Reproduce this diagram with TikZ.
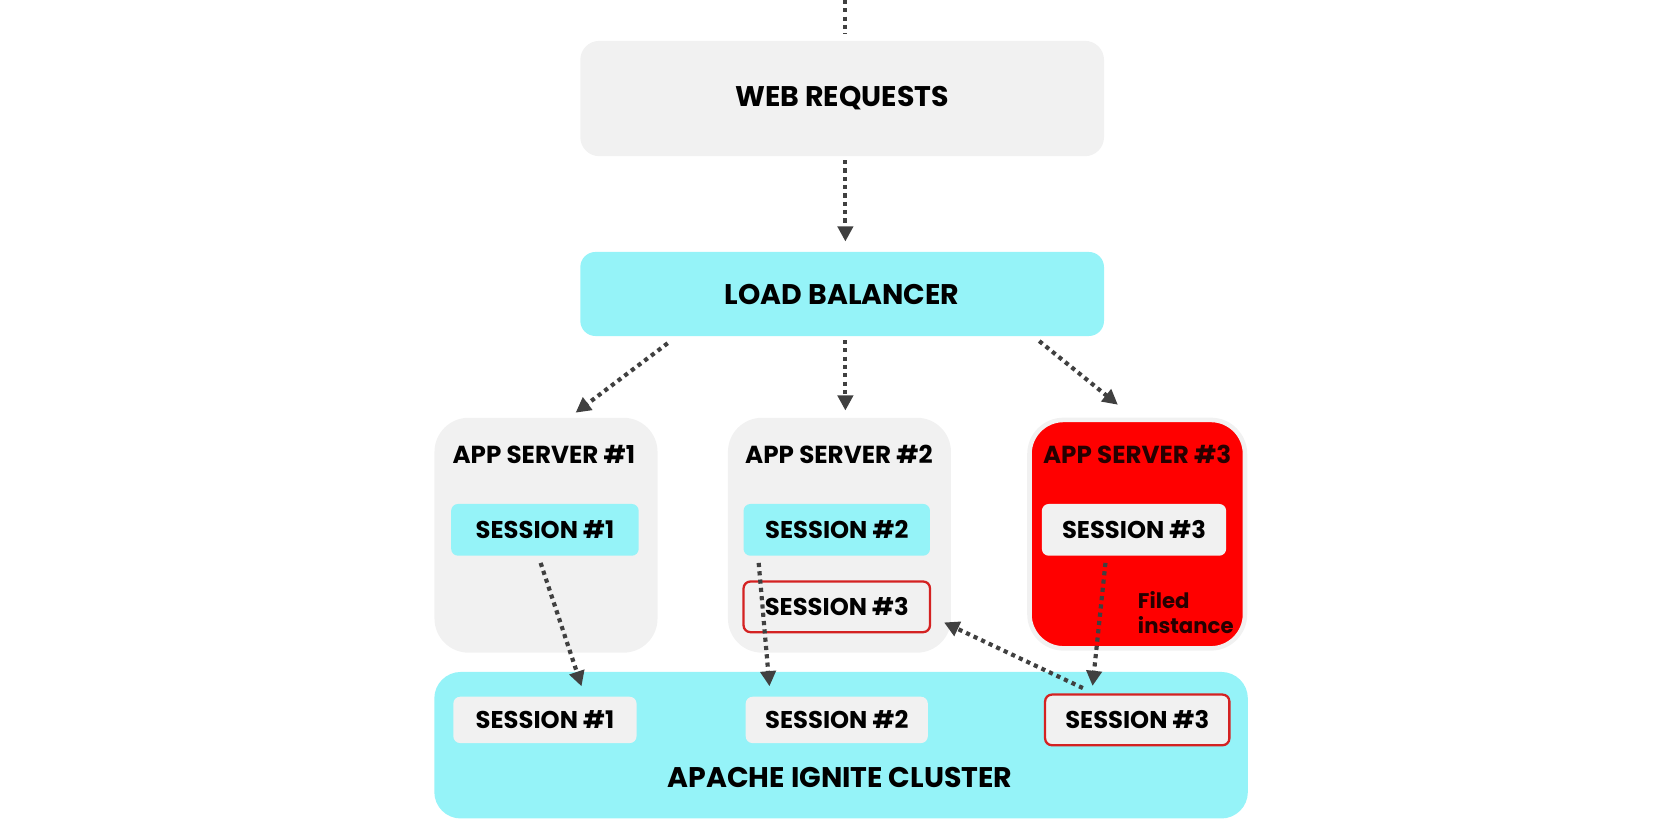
\documentclass[tikz,border=0pt]{standalone}
\usepackage{fontspec}
\setmainfont{Poppins}
\usetikzlibrary{arrows.meta,calc}
\definecolor{ciano}{HTML}{95F3F8}
\definecolor{grigio}{HTML}{F1F1F1}
\definecolor{rosso}{HTML}{FF0000}
\definecolor{bordo}{HTML}{D42222}
\definecolor{scuro}{HTML}{404040}
\tikzset{
>={Triangle[length=4pt,width=4pt]},
main node/.style={inner sep=0pt,font=\bfseries\fontsize{7.5}{9}\selectfont},
server node/.style={rounded corners=9pt,inner sep=0pt,minimum width=2.07cm,minimum height=2.18cm},
session node/.style={rounded corners=1.8pt,inner sep=0pt,minimum width=1.73cm,minimum height=0.48cm,font=\bfseries\fontsize{6.4}{8}\selectfont},
title node/.style={inner sep=0pt,font=\bfseries\fontsize{6.5}{8}\selectfont},
puntini/.style={draw=scuro,line width=1.1pt,dash pattern=on 1.1pt off 1.1pt},
freccia/.style={puntini,->}}

\begin{document}
\begin{tikzpicture}[x=0.01cm,y=-0.01cm]
\useasboundingbox (0,0) rectangle (1560,780);

\node[main node,fill=grigio,rounded corners=5pt,minimum width=4.86cm,minimum height=1.07cm] (web) at (782,91.5) {WEB REQUESTS};
\node[main node,fill=ciano,rounded corners=4pt,minimum width=4.86cm,minimum height=0.78cm] (lb) at (782,273) {LOAD BALANCER};

% app servers
\node[server node,fill=grigio] (srv1) at (507,497) {};
\node[server node,fill=grigio] (srv2) at (779.5,497) {};
\node[server node,fill=rosso,draw=grigio,line width=1.2pt,minimum width=2.0cm,minimum height=2.12cm] (srv3) at (1056,496) {};
\node[title node] (t1) at (505,422) {APP SERVER \#1};
\node[title node] (t2) at (779,422) {APP SERVER \#2};
\node[title node,text=black!85!red] (t3) at (1056,422) {APP SERVER \#3};

\node[session node,fill=ciano,minimum width=1.74cm] (a1) at (506,492) {SESSION \#1};
\node[session node,fill=ciano] (a2) at (777,492) {SESSION \#2};
\node[session node,fill=grigio,draw=bordo,line width=0.6pt,minimum height=0.47cm] (a3) at (777,563.5) {SESSION \#3};
\node[session node,fill=grigio,minimum width=1.71cm] (b3) at (1053,492) {SESSION \#3};
\node[inner sep=0pt,anchor=west,align=left,font=\bfseries\fontsize{5.6}{6.6}\selectfont,text=black!85!red] (fail) at (1056,569) {Filed\\instance};

% cluster
\node[main node,fill=ciano,rounded corners=7pt,minimum width=7.55cm,minimum height=1.36cm] (ign) at (781,692) {};
\node[main node] (ignt) at (780,722) {APACHE IGNITE CLUSTER};
\node[session node,fill=grigio,minimum width=1.7cm,minimum height=0.43cm] (c1) at (506,668.5) {SESSION \#1};
\node[session node,fill=grigio,minimum width=1.69cm,minimum height=0.43cm] (c2) at (777,668.5) {SESSION \#2};
\node[session node,fill=grigio,draw=bordo,line width=0.6pt,minimum width=1.71cm,minimum height=0.47cm] (c3) at (1056,668.5) {SESSION \#3};

\coordinate (top) at (785,0);
\draw[puntini,shorten >=0.06cm] (top) -- (top |- web.north);
\draw[freccia,shorten <=0.03cm,shorten >=0.09cm] (web.south -| top) -- (lb.north -| top);

\draw[freccia] ($(lb.south)+(-162,6)$) -- ($(srv1.north)+(27.5,-4)$);
\draw[freccia,shorten <=0.03cm,shorten >=0.06cm] (lb.south -| top) -- (srv2.north -| top);
\draw[freccia] ($(lb.south)+(183,4)$) -- ($(srv3.north)+(-18,-12)$);

\draw[freccia] ($(a1.south)+(-4,6)$) -- ($(c1.north)+(34,-9)$);
\draw[freccia] ($(a2.south)+(-72.5,6)$) -- ($(c2.north)+(-62.5,-9)$);
\draw[freccia] ($(b3.south)+(-26.5,6)$) -- ($(c3.north)+(-41.5,-7)$);
\draw[freccia] ($(c3.north)+(-50.5,-5)$) -- ($(a3.east)+(12,14.5)$);

\end{tikzpicture}
\end{document}
